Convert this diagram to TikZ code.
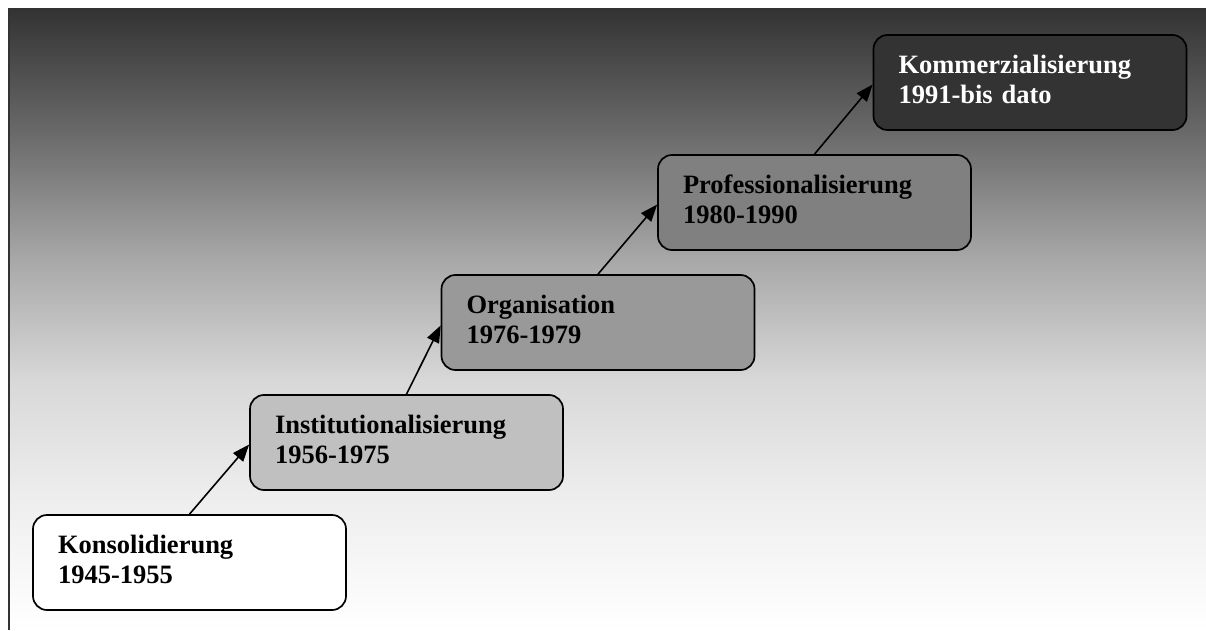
\documentclass[tikz,border=0pt]{standalone}
\usepackage{fontspec}
\setmainfont{Liberation Serif}
\usetikzlibrary{arrows.meta}

% greys of the backdrop fade, from light (bottom) to dark (top)
\definecolor{fadeA}{gray}{0.933}
\definecolor{fadeB}{gray}{0.847}
\definecolor{fadeC}{gray}{0.659}
\definecolor{fadeD}{gray}{0.408}
\definecolor{fadeE}{gray}{0.200}
\pgfdeclareverticalshading{bgfade}{100bp}{%
  color(0bp)=(white); color(25bp)=(white); color(35.5bp)=(fadeA);
  color(45.1bp)=(fadeB); color(54.8bp)=(fadeC); color(65.3bp)=(fadeD);
  color(75bp)=(fadeE); color(100bp)=(fadeE)}

% stage fills
\definecolor{stageB}{HTML}{C0C0C0}
\definecolor{stageC}{HTML}{999999}
\definecolor{stageD}{HTML}{808080}
\definecolor{stageE}{HTML}{333333}
\definecolor{frameline}{HTML}{333333}

% extra depth below the second line, to seat the text a little high in its box
\newcommand\seatline{\rule[-7pt]{0pt}{7pt}}

\tikzset{
  stage/.style={draw=black, line width=1.7pt, rounded corners=14pt,
    minimum width=313pt, minimum height=95pt, inner xsep=25pt, inner ysep=0pt,
    text width=263pt, align=left,
    font=\fontsize{26.5pt}{30pt}\selectfont\bfseries},
  link/.style={line width=1.6pt, -{Triangle[length=17pt,width=13pt]}},
}

\begin{document}
\begin{tikzpicture}[x=1pt,y=1pt]
  \useasboundingbox (0,0) rectangle (1206,630);
  \fill[white] (0,0) rectangle (1206,630);

  % fading backdrop with a dark rule on its left edge
  \shade[shading=bgfade] (8,0) rectangle (1206,621);
  \draw[frameline, line width=2pt] (9,0) -- (9,621);

  % the five stages
  \node[stage, fill=white]  (b1) at (189.5,67.5)  {Konsolidierung\\1945-1955\seatline};
  \node[stage, fill=stageB] (b2) at (406.5,187.5) {Institutionalisierung\\1956-1975\seatline};
  \node[stage, fill=stageC] (b3) at (598,307.5)   {Organisation\\1976-1979\seatline};
  \node[stage, fill=stageD] (b4) at (814.5,427.5) {Professionalisierung\\1980-1990\seatline};
  \node[stage, fill=stageE, text=white] (b5) at (1030,547.5) {Kommerzialisierung\\1991-bis dato\seatline};

  % steps between the stages
  \draw[link] (b1.north) -- ([yshift=-2pt]b2.west);
  \draw[link] (b2.north) -- ([yshift=-3pt]b3.west);
  \draw[link] (b3.north) -- ([yshift=-2pt]b4.west);
  \draw[link] (b4.north) -- ([yshift=-2pt]b5.west);
\end{tikzpicture}
\end{document}
